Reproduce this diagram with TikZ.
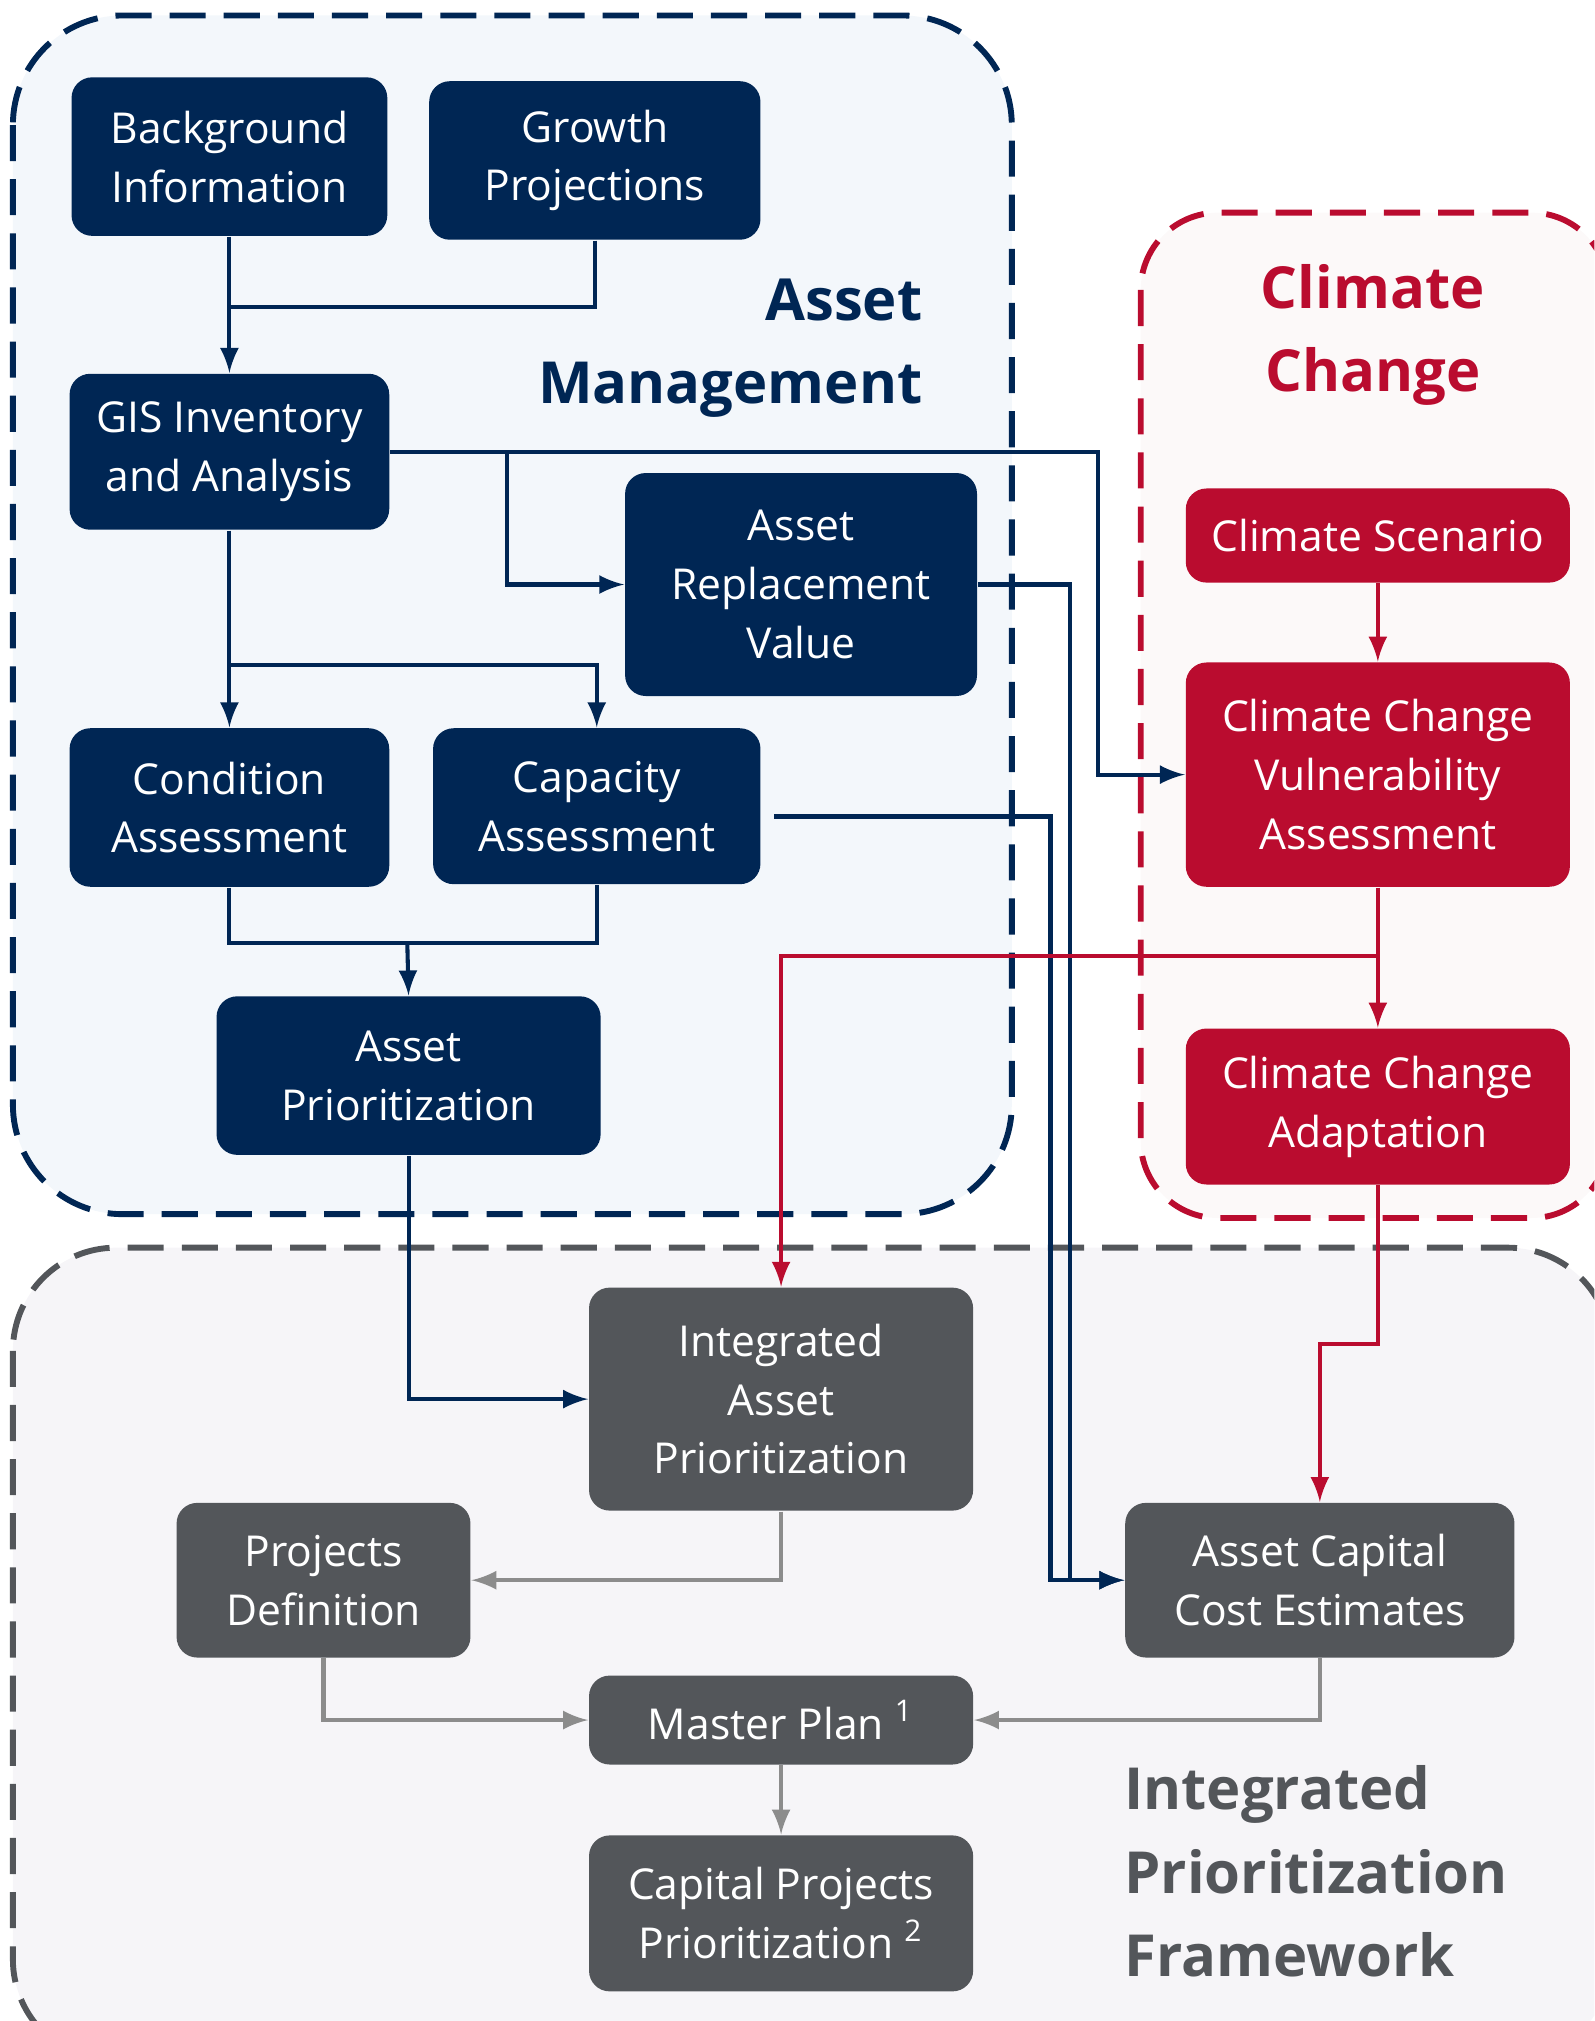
\documentclass[tikz,border=0pt]{standalone}
\usepackage{fontspec}
\setmainfont{Open Sans}
\usetikzlibrary{arrows}
\usetikzlibrary{calc}

\definecolor{amnavy}{RGB}{0,38,84}
\definecolor{ccred}{RGB}{186,12,47}
\definecolor{ipgray}{RGB}{83,86,90}
\definecolor{amfill}{RGB}{243,247,251}
\definecolor{ccfill}{RGB}{252,249,249}
\definecolor{ipfill}{RGB}{246,245,248}

\tikzset{
  box/.style={rounded corners=1.6mm, align=center, text=white, inner sep=1mm,
    font=\fontsize{9.4}{13}\selectfont},
  amstep/.style={box, fill=amnavy},
  ccstep/.style={box, fill=ccred},
  ipstep/.style={box, fill=ipgray},
  group/.style={line width=1.3pt, dash pattern=on 2.8mm off 1.4mm},
  title/.style={font=\fontsize{12.8}{18.4}\selectfont\bfseries},
  amlink/.style={amnavy, line width=0.9pt},
  cclink/.style={ccred, line width=0.9pt},
  iplink/.style={black!45, line width=0.9pt},
}

\begin{document}
\begin{tikzpicture}[>=latex]
    \useasboundingbox (0,0) rectangle (12.37,-15.68);
    \clip (0,0) rectangle (12.37,-15.68);

% the three groups
\draw[group, amnavy, fill=amfill, rounded corners=8.5mm] (0.10,-0.12) rectangle (7.85,-9.42);
\draw[group, ccred, fill=ccfill, rounded corners=6mm] (8.85,-1.65) rectangle (12.48,-9.45);
\draw[group, ipgray, fill=ipfill, rounded corners=8mm] (0.10,-9.68) rectangle (12.50,-16.00);

\node[title, amnavy, align=right, anchor=east] (amtitle) at (7.28,-2.70) {Asset\\Management};
\node[title, ccred, align=center] (cctitle) at (10.65,-2.60) {Climate\\Change};
\node[title, ipgray, align=left, anchor=west] (iptitle) at (8.60,-14.52) {Integrated\\Prioritization\\Framework};

% asset management
\node[amstep, minimum width=2.45cm, minimum height=1.23cm] (bg) at (1.78,-1.215) {Background\\Information};
\node[amstep, minimum width=2.57cm, minimum height=1.23cm] (grow) at (4.615,-1.245) {Growth\\Projections};
\node[amstep, minimum width=2.48cm, minimum height=1.21cm] (gis) at (1.78,-3.505) {GIS Inventory\\and Analysis};
\node[amstep, minimum width=2.73cm, minimum height=1.73cm] (arv) at (6.215,-4.535) {Asset\\Replacement\\Value};
\node[amstep, minimum width=2.48cm, minimum height=1.23cm] (cond) at (1.78,-6.265) {Condition\\Assessment};
\node[amstep, minimum width=2.54cm, minimum height=1.21cm] (capa) at (4.63,-6.255) {Capacity\\Assessment};
\node[amstep, minimum width=2.98cm, minimum height=1.23cm] (aprio) at (3.17,-8.345) {Asset\\Prioritization};

% climate change
\node[ccstep, minimum width=2.98cm, minimum height=0.73cm] (scen) at (10.69,-4.155) {Climate Scenario};
\node[ccstep, minimum width=2.98cm, minimum height=1.74cm] (vuln) at (10.69,-6.01) {Climate Change\\Vulnerability\\Assessment};
\node[ccstep, minimum width=2.98cm, minimum height=1.21cm] (adapt) at (10.69,-8.585) {Climate Change\\Adaptation};

% integrated prioritization
\node[ipstep, minimum width=2.98cm, minimum height=1.73cm] (iap) at (6.06,-10.855) {Integrated\\Asset\\Prioritization};
\node[ipstep, minimum width=2.28cm, minimum height=1.20cm] (pdef) at (2.51,-12.26) {Projects\\Definition};
\node[ipstep, minimum width=3.02cm, minimum height=1.20cm] (acce) at (10.24,-12.26) {Asset Capital\\Cost Estimates};
\node[ipstep, minimum width=2.98cm, minimum height=0.69cm] (mplan) at (6.06,-13.345) {Master Plan \textsuperscript{1}};
\node[ipstep, minimum width=2.98cm, minimum height=1.21cm] (cpp) at (6.06,-14.845) {Capital Projects\\Prioritization \textsuperscript{2}};

\coordinate (jbg) at (1.78,-2.38);
\coordinate (jgis) at (3.93,-3.505);
\coordinate (jgisr) at (8.52,-3.505);
\coordinate (jcond) at (1.78,-5.16);
\coordinate (jarv) at (8.30,-12.26);
\coordinate (jcapa) at (8.15,-12.26);
\coordinate (jvuln) at (10.69,-7.42);

% links
\draw[amlink, ->] (bg) -- (gis);
\draw[amlink] (grow.south) |- (jbg);
\draw[amlink, ->] (gis.east) -- (jgisr) |- (vuln.west);
\draw[amlink, ->] (jgis) |- (arv.west);
\draw[amlink, ->] (arv.east) -| (jarv) -- (acce.west);
\draw[amlink, ->] ($(capa.east)+(0.1,-0.08)$) -| (jcapa) -- (acce.west);
\draw[amlink, ->] (gis) -- (cond);
\draw[amlink, ->] (jcond) -| (capa.north);
\draw[amlink] (cond.south) -- ++(0,-0.43) -| (capa.south);
\draw[amlink, ->] ($(cond.south)+(1.38,-0.43)$) -- (aprio.north);
\draw[amlink, ->] (aprio.south) |- (iap.west);

\draw[cclink, ->] (scen) -- (vuln);
\draw[cclink, ->] (vuln) -- (adapt);
\draw[cclink, ->] (jvuln) -| (iap.north);
\draw[cclink, ->] (adapt.south) -- ++(0,-1.23) -| (acce.north);

\draw[iplink, ->] (iap.south) |- (pdef.east);
\draw[iplink, ->] (pdef.south) |- (mplan.west);
\draw[iplink, ->] (acce.south) |- (mplan.east);
\draw[iplink, ->] (mplan) -- (cpp);
\end{tikzpicture}
\end{document}
